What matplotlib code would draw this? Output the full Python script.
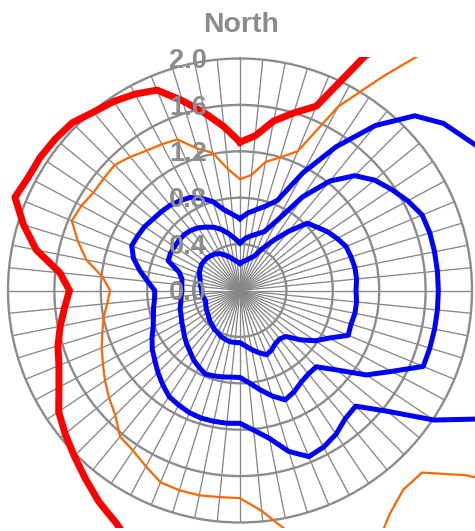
import numpy as np
import matplotlib
matplotlib.use("Agg")
import matplotlib.pyplot as plt
from matplotlib.patches import Rectangle
import matplotlib.transforms as mtransforms

# ---- data -------------------------------------------------------------
# 64 compass directions, clockwise from North
directions = np.arange(64) * 360.0 / 64

r_ticks = [0.0, 0.4, 0.8, 1.2, 1.6, 2.0]
r_labels = ["0.0", "0.4", "0.8", "1.2", "1.6", "2.0"]

red = [1.28, 1.34, 1.49, 1.60, 1.72, 2.30, 2.60, 2.90, 3.10, 3.10, 3.00, 2.90, 2.80, 2.70, 2.60, 2.50,
       2.50, 2.50, 2.50, 2.50, 2.60, 2.70, 2.80, 2.90, 3.00, 2.90, 2.80, 2.70, 2.60, 2.60, 2.60, 2.60,
       2.60, 2.60, 2.60, 2.50, 2.40, 2.27, 2.19, 2.10, 2.02, 1.95, 1.88, 1.77, 1.69, 1.64, 1.58, 1.52,
       1.47, 1.56, 1.79, 1.95, 2.10, 2.07, 2.07, 2.06, 2.045, 1.99, 1.96, 1.92, 1.87, 1.71, 1.56, 1.42]

orange = [0.96, 1.00, 1.13, 1.20, 1.30, 1.80, 2.22, 2.80, 3.00, 3.00, 3.00, 3.00, 3.00, 3.00, 3.00, 3.00,
          3.00, 3.00, 3.00, 3.00, 3.00, 3.00, 3.10, 2.51, 2.22, 2.22, 2.32, 2.50, 2.50, 2.40, 2.12, 1.91,
          1.79, 1.79, 1.80, 1.80, 1.79, 1.72, 1.66, 1.63, 1.52, 1.46, 1.40, 1.34, 1.29, 1.24, 1.20, 1.15,
          1.12, 1.19, 1.35, 1.46, 1.57, 1.55, 1.52, 1.52, 1.53, 1.49, 1.45, 1.43, 1.41, 1.28, 1.21, 1.05]

blue_inner = [0.235, 0.25, 0.265, 0.29, 0.32, 0.41, 0.52, 0.66, 0.82, 0.86, 0.91, 0.95, 0.99, 1.00, 1.01, 1.01,
              1.00, 1.01, 1.01, 1.00, 1.01, 0.87, 0.78, 0.67, 0.56, 0.54, 0.55, 0.58, 0.60, 0.56, 0.52, 0.48,
              0.45, 0.45, 0.45, 0.44, 0.43, 0.41, 0.40, 0.38, 0.37, 0.35, 0.34, 0.33, 0.32, 0.31, 0.32, 0.33,
              0.33, 0.34, 0.35, 0.36, 0.38, 0.39, 0.40, 0.40, 0.40, 0.39, 0.38, 0.36, 0.33, 0.30, 0.27, 0.25]

blue_middle = [0.41, 0.45, 0.48, 0.51, 0.55, 0.69, 0.97, 1.22, 1.40, 1.50, 1.57, 1.64, 1.70, 1.71, 1.71, 1.71,
               1.71, 1.71, 1.71, 1.71, 1.71, 1.48, 1.31, 1.08, 0.93, 0.93, 0.95, 0.99, 1.02, 0.95, 0.87, 0.80,
               0.75, 0.75, 0.76, 0.77, 0.78, 0.75, 0.72, 0.68, 0.65, 0.62, 0.59, 0.57, 0.55, 0.54, 0.52, 0.51,
               0.50, 0.505, 0.51, 0.55, 0.67, 0.68, 0.68, 0.68, 0.68, 0.67, 0.65, 0.62, 0.59, 0.55, 0.50, 0.45]

blue_outer = [0.62, 0.67, 0.71, 0.76, 0.84, 1.15, 1.49, 1.84, 2.13, 2.27, 2.35, 2.46, 2.50, 2.50, 2.50, 2.50,
              2.50, 2.50, 2.50, 2.50, 2.45, 2.35, 2.01, 1.64, 1.41, 1.43, 1.49, 1.53, 1.55, 1.45, 1.30, 1.21,
              1.145, 1.15, 1.15, 1.15, 1.14, 1.12, 1.10, 1.05, 1.00, 0.95, 0.91, 0.86, 0.81, 0.78, 0.76, 0.74,
              0.735, 0.80, 0.88, 0.96, 1.01, 1.00, 0.99, 0.97, 0.96, 0.95, 0.93, 0.91, 0.86, 0.80, 0.71, 0.66]

series = [
    (red, "#ff0000", 5.0),
    (orange, "#ff6600", 1.6),
    (blue_outer, "#0000ff", 3.6),
    (blue_middle, "#0000ff", 3.6),
    (blue_inner, "#0000ff", 3.6),
]

# ---- figure -----------------------------------------------------------
W, H = 475, 531
fig = plt.figure(figsize=(W / 100, H / 100), dpi=100, facecolor="white")
cx, cy, R = 240.0, 290.5, 232.0
ax = fig.add_axes([(cx - R) / W, (H - cy - R) / H, 2 * R / W, 2 * R / H],
                  projection="polar")
ax.set_theta_zero_location("N")
ax.set_theta_direction(-1)
ax.set_ylim(0, 2.0)
ax.set_facecolor("white")

grid_col = "#8c8c8c"
ax.set_xticks(np.deg2rad(directions))
ax.set_xticklabels([])
ax.set_yticks(r_ticks[1:-1])
ax.set_yticklabels([])
ax.tick_params(length=0)
ax.xaxis.grid(True, color="#878787", linewidth=0.95)
ax.yaxis.grid(True, color=grid_col, linewidth=1.7)
ax.spines["polar"].set_color(grid_col)
ax.spines["polar"].set_linewidth(1.7)
ax.set_axisbelow(True)

clip = Rectangle((0, 3.0 / H), 1.0, (H - 57.0 - 3.0) / H, transform=fig.transFigure)

theta = np.deg2rad(np.append(directions, 360.0))
for vals, col, lw in series:
    line, = ax.plot(theta, np.append(vals, vals[0]), color=col, linewidth=lw, zorder=3)
    line.set_clip_path(clip)

lab_tr = mtransforms.offset_copy(ax.transData, fig=fig, x=-33, y=-9.7, units="dots")
for v, lab in zip(r_ticks, r_labels):
    ax.text(0, v, lab, transform=lab_tr, ha="right", va="baseline",
            fontsize=19.5, fontweight="bold", color=grid_col,
            family="Liberation Sans", zorder=6, clip_on=False)

fig.text(241 / W, 1 - 31.7 / H, "North", ha="center", va="baseline",
         fontsize=20.5, fontweight="bold", color=grid_col, family="Liberation Sans")

fig.savefig("out.png", dpi=100, facecolor="white")
